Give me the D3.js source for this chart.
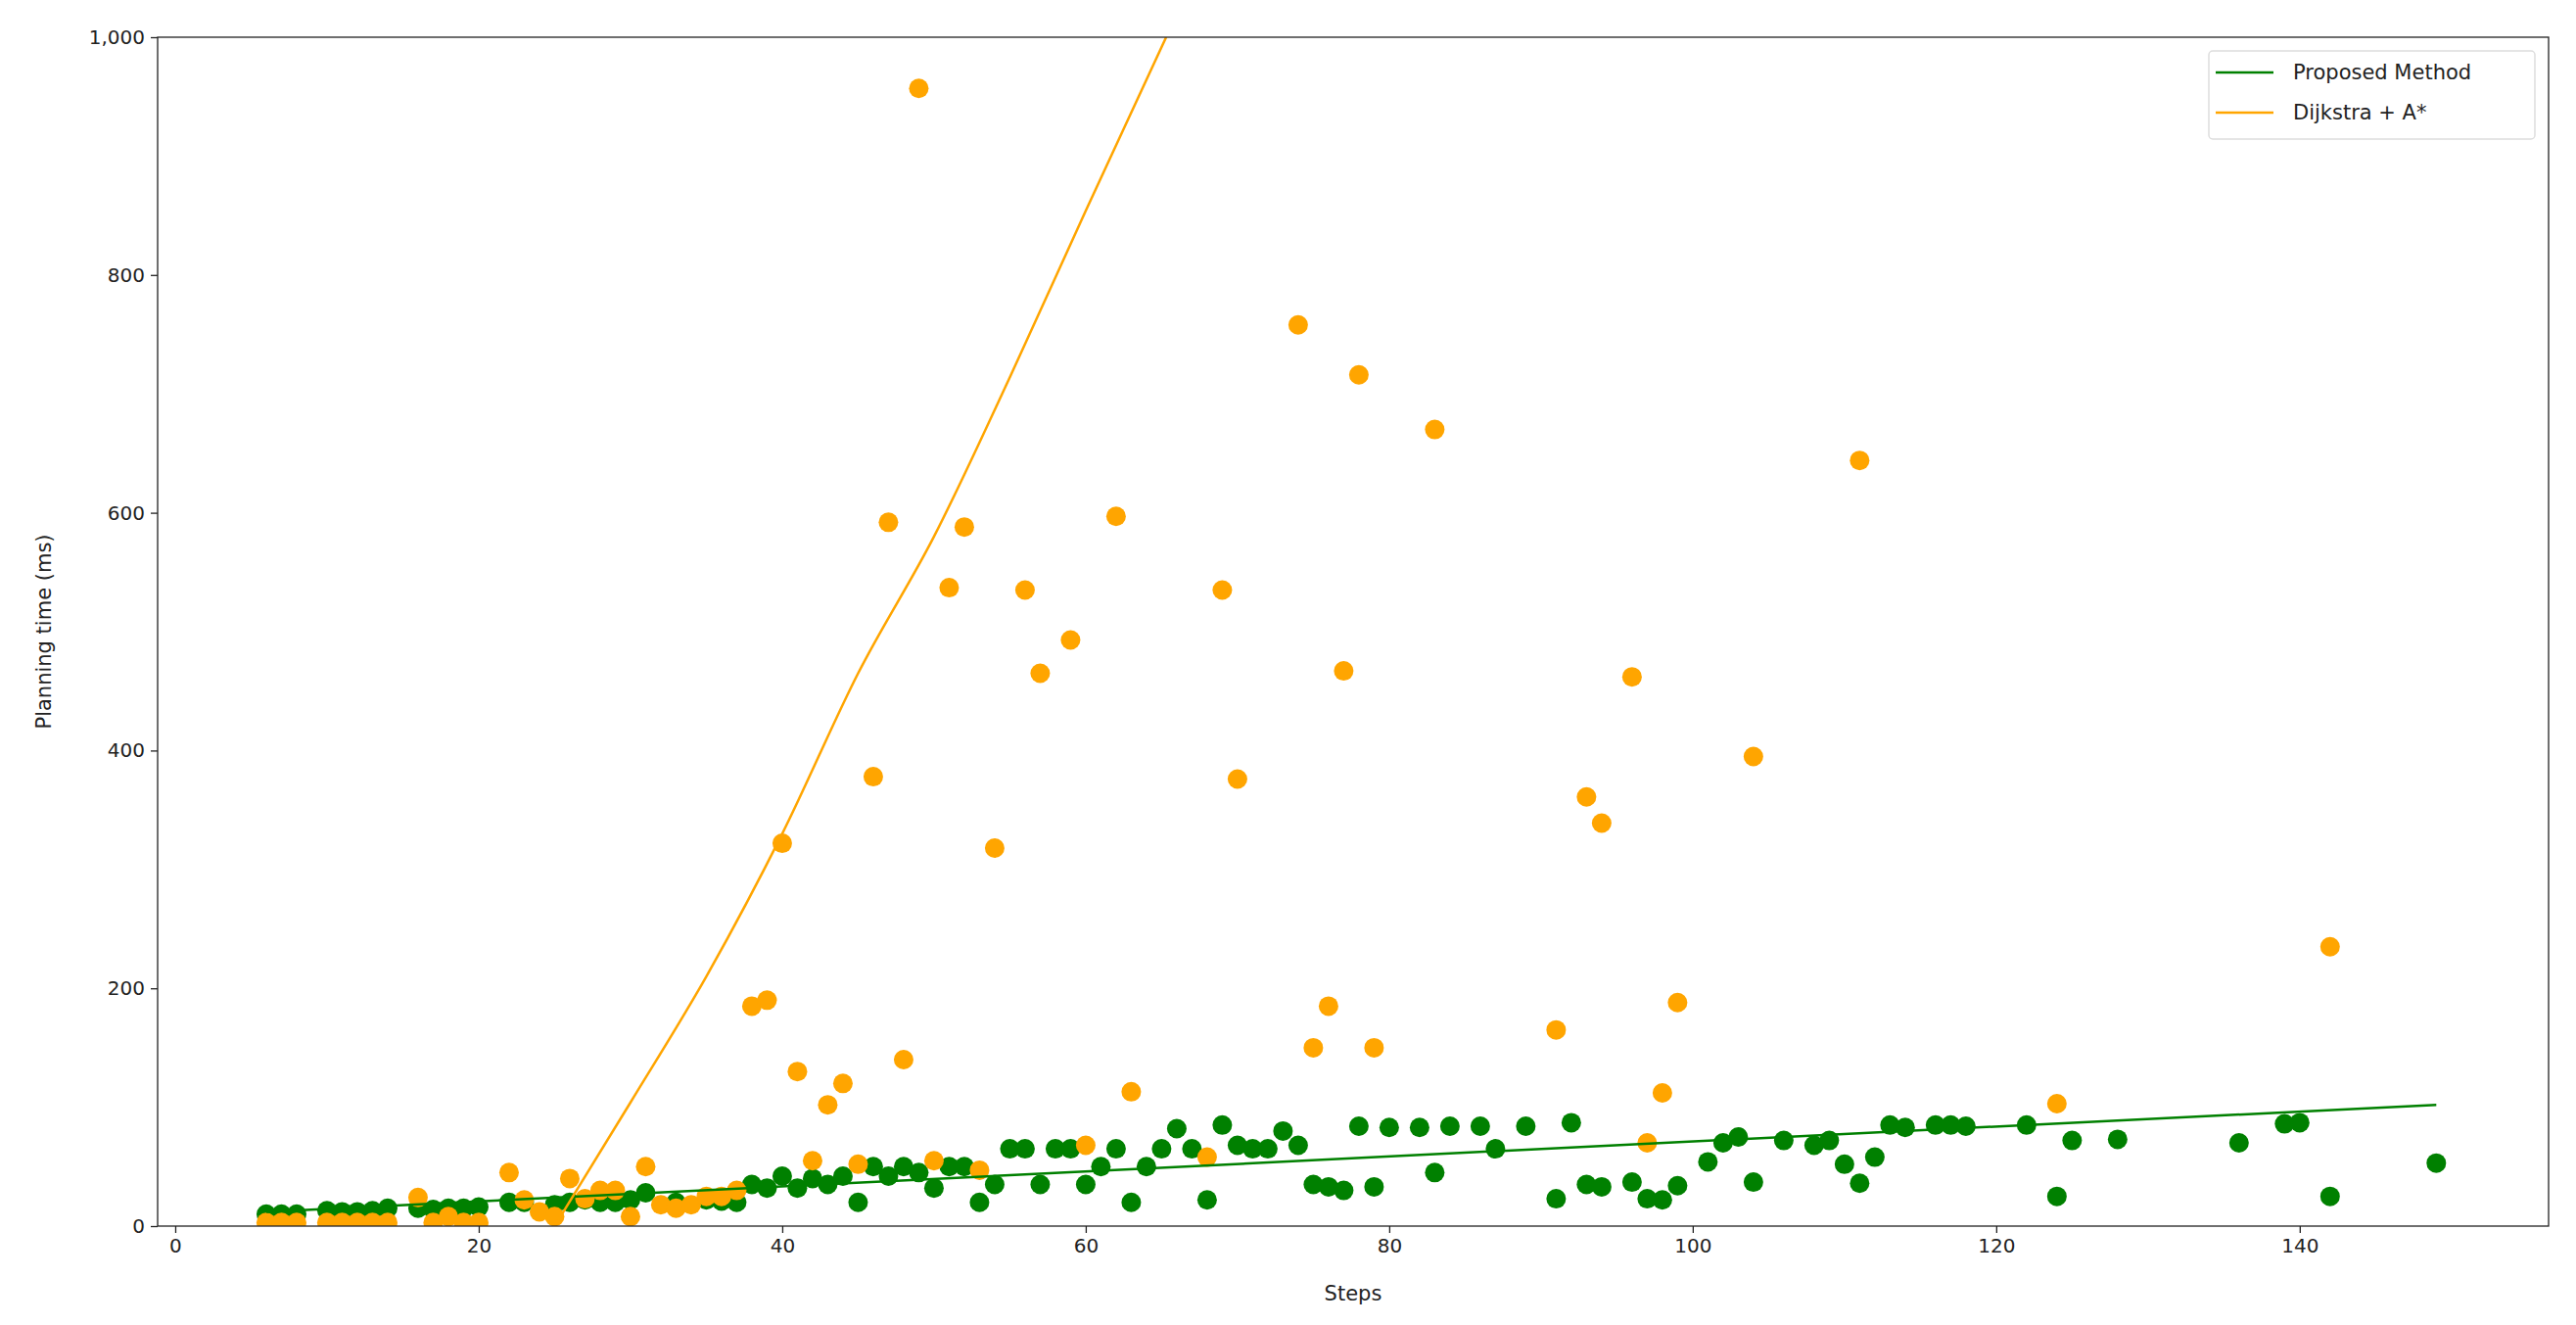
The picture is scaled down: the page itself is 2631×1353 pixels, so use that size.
<!DOCTYPE html>
<html>
<head>
<meta charset="utf-8">
<script src="https://d3js.org/d3.v7.min.js"></script>
<style>
  body { margin: 0; background: #fff; }
  text { font-family: "DejaVu Sans", sans-serif; }
</style>
</head>
<body>
<div id="chart"></div>
<script>
// scatter data: [steps, planning time]
var greenPts = [[6,10],[7,10],[8,10],[10,13],[11,12],[12,12],[13,13],[14,15],[16,15],[17,14],[18,15],[19,15],[20,16],
  [22,20],[23,20],[25,18],[26,20],[27,22],[28,20],[29,20],[30,22],[31,28],[33,20],[35,22],[36,21],[37,20],[38,35],
  [39,32],[40,42],[41,32],[42,40],[43,35],[44,42],[45,20],[46,50],[47,42],[48,50],[49,45],[50,32],[51,50],[52,50],
  [53,20],[54,35],[55,65],[56,65],[57,35],[58,65],[59,65],[60,35],[61,50],[62,65],[63,20],[64,50],[65,65],[66,82],
  [67,65],[68,22],[69,85],[70,68],[71,65],[72,65],[73,80],[74,68],[75,35],[76,33],[77,30],[78,84],[79,33],[80,83],
  [82,83],[83,45],[84,84],[86,84],[87,65],[89,84],[91,23],[92,87],[93,35],[94,33],[96,37],[97,23],[98,22],[99,34],
  [101,54],[102,70],[103,75],[104,37],[106,72],[108,68],[109,72],[110,52],[111,36],[112,58],[113,85],[114,83],
  [116,85],[117,85],[118,84],[122,85],[124,25],[125,72],[128,73],[136,70],[139,86],[140,87],[142,25],[149,53]];
var orangePts = [[6,3],[7,3],[8,3],[10,3],[11,3],[12,3],[13,3],[14,3],[16,24],[17,3],[18,8],[19,3],[20,3],[22,45],
  [23,22],[24,12],[25,8],[26,40],[27,23],[28,30],[29,30],[30,8],[31,50],[32,18],[33,15],[34,18],[35,25],[36,25],
  [37,30],[38,185],[39,190],[40,322],[41,130],[42,55],[43,102],[44,120],[45,52],[46,378],[47,592],[48,140],[49,957],
  [50,55],[51,537],[52,588],[53,47],[54,318],[56,535],[57,465],[59,493],[60,68],[62,597],[63,113],[68,58],[69,535],
  [70,376],[74,758],[75,150],[76,185],[77,467],[78,716],[79,150],[83,670],[91,165],[93,361],[94,339],[96,462],
  [97,70],[98,112],[99,188],[104,395],[111,644],[124,103],[142,235]];
// fitted trend lines
var greenFit = [[6,12],[149,102]];
var orangeFit = [[25,0],[30,104],[35,210],[40,330],[45,465],[50,580],[55,714],[60,854],[65.3,1000]];
var xTicks = [0,20,40,60,80,100,120,140];
var yTicks = [0,200,400,600,800,1000];
var seriesNames = ["Proposed Method","Dijkstra + A*"];
var colors = ["green","orange"];

var W = 2631, H = 1353;
var m = {left:161, right:W-2603, top:38, bottom:H-1252};
var svg = d3.select("#chart").append("svg").attr("width",W).attr("height",H);
var x = d3.scaleLinear().domain([-1.16,156.4]).range([m.left, W-m.right]);
var y = d3.scaleLinear().domain([0,1000]).range([H-m.bottom, m.top]);

svg.append("clipPath").attr("id","clip").append("rect")
  .attr("x",m.left).attr("y",m.top).attr("width",W-m.left-m.right).attr("height",H-m.top-m.bottom);

var g = svg.append("g").attr("clip-path","url(#clip)");
var line = d3.line().x(function(d){return x(d[0]);}).y(function(d){return y(d[1]);});

g.selectAll(".gp").data(greenPts).enter().append("circle")
  .attr("cx",function(d){return x(d[0]);}).attr("cy",function(d){return y(d[1]);})
  .attr("r",10).attr("fill","green");
g.selectAll(".op").data(orangePts).enter().append("circle")
  .attr("cx",function(d){return x(d[0]);}).attr("cy",function(d){return y(d[1]);})
  .attr("r",10).attr("fill","orange");
g.append("path").datum(greenFit).attr("d",line).attr("fill","none").attr("stroke","green").attr("stroke-width",2.5);
g.append("path").datum(orangeFit).attr("d",line.curve(d3.curveMonotoneX)).attr("fill","none").attr("stroke","orange").attr("stroke-width",2.5);

// axes
var xa = svg.append("g").attr("transform","translate(0,"+(H-m.bottom)+")")
  .call(d3.axisBottom(x).tickValues(xTicks).tickSize(7).tickPadding(6));
var ya = svg.append("g").attr("transform","translate("+m.left+",0)")
  .call(d3.axisLeft(y).tickValues(yTicks).tickSize(7).tickPadding(6));
[xa,ya].forEach(function(a){
  a.select(".domain").remove();
  a.selectAll("text").style("font-size","20px").attr("fill","#222");
  a.selectAll("line").attr("stroke","#222").attr("stroke-width",1.3);
});
svg.append("rect").attr("x",m.left).attr("y",m.top).attr("width",W-m.left-m.right).attr("height",H-m.top-m.bottom)
  .attr("fill","none").attr("stroke","#222").attr("stroke-width",1.3);

svg.append("text").text("Steps").attr("x",(m.left+W-m.right)/2).attr("y",1328)
  .attr("text-anchor","middle").style("font-size","21px").attr("fill","#222");
svg.append("text").text("Planning time (ms)").attr("transform","translate(52,"+((m.top+H-m.bottom)/2)+") rotate(-90)")
  .attr("text-anchor","middle").style("font-size","21px").attr("fill","#222");

// legend
var lg = svg.append("g");
lg.append("rect").attr("x",2256).attr("y",52).attr("width",333).attr("height",90).attr("rx",4)
  .attr("fill","#fff").attr("stroke","#ddd").attr("stroke-width",1.5);
seriesNames.forEach(function(s,i){
  var yy = 74 + i*41;
  lg.append("line").attr("x1",2263).attr("x2",2322).attr("y1",yy).attr("y2",yy)
    .attr("stroke",colors[i]).attr("stroke-width",2.5);
  lg.append("text").text(s).attr("x",2342).attr("y",yy+7).style("font-size","21px").attr("fill","#222");
});
</script>
</body>
</html>
